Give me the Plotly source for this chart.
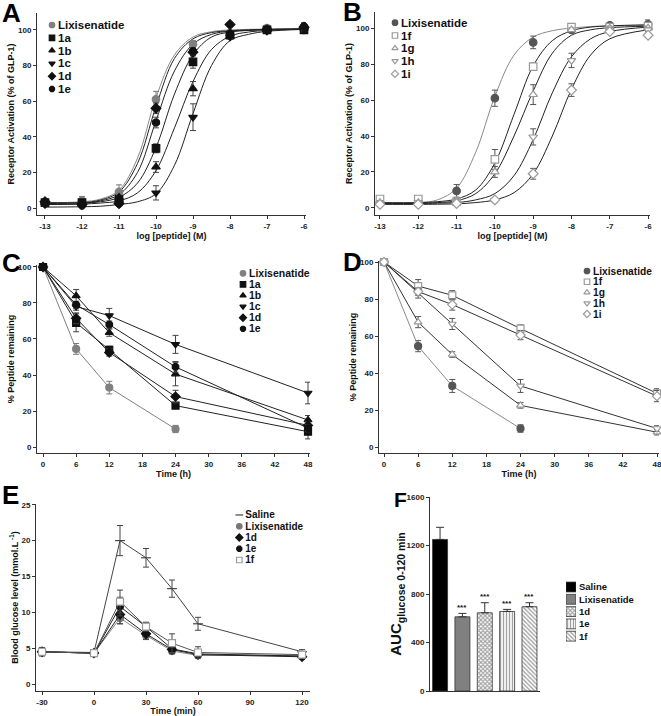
import plotly.graph_objects as go

W, H = 661, 716
FONT = "Liberation Sans"

# ---------------- Panel A: receptor activation ----------------
A_X = [-13, -12, -11, -10, -9, -8, -7, -6]
A_NAMES = ["Lixisenatide", "1a", "1b", "1c", "1d", "1e"]
A_LIXI = [3, 4, 9, 61, 92, 98, 101, 101]
A_LIXI_ERR = [1.5, 2.5, 4, 4.5, 2, 1, 1.5, 2]
A_1A = [3, 3, 5, 33.5, 82, 97, 100, 100]
A_1A_ERR = [1, 1, 1.5, 2.5, 3.5, 1, 1, 1]
A_1B = [3, 2.5, 6, 23, 67, 96.5, 100, 101]
A_1B_ERR = [1, 1, 1, 3, 4, 1, 1, 1.5]
A_1C = [2, 2, 3, 8.5, 51, 96, 100, 100]
A_1C_ERR = [1, 1, 1, 4, 7.5, 1, 1, 1]
A_1D = [3.5, 2, 2.5, 56, 87.5, 103, 100, 101.5]
A_1D_ERR = [1, 1, 1, 3, 2, 1, 1, 2]
A_1E = [2.5, 1.5, 2.5, 48, 88, 98, 100, 102]
A_1E_ERR = [1, 1, 1, 3, 2, 1, 1, 2]
# fitted curves
A_FIT_X = [-13, -12, -11.5, -11, -10.5, -10, -9.5, -9, -8.5, -8, -7.5, -7, -6]
A_LIXI_FIT = [3, 3.5, 5, 10, 28, 62, 86, 96, 99, 100, 100.3, 100.5, 100.5]
A_1A_FIT = [3, 3, 3.5, 6, 14, 34, 64, 86, 96, 98.8, 99.7, 100.2, 100.5]
A_1B_FIT = [2, 2.2, 2.8, 4, 8.5, 21, 45, 71, 89, 96.5, 98.8, 99.7, 100.5]
A_1C_FIT = [0.5, 0.7, 1, 2, 3.5, 8, 24, 53, 80, 94, 97.5, 99.2, 100.3]
A_1D_FIT = [2.5, 3, 4.5, 9, 25, 57, 84, 95, 98.5, 99.5, 100, 100.3, 100.5]
A_1E_FIT = [2, 2.5, 4, 7.5, 20, 49, 77, 92, 97.5, 99.3, 99.8, 100.2, 100.5]

# ---------------- Panel B ----------------
B_X = [-13, -12, -11, -10, -9, -8, -7, -6]
B_NAMES = ["Lixisenatide", "1f", "1g", "1h", "1i"]
B_LIXI = [3, 3, 9.5, 61, 92, 99, 101.5, 102]
B_LIXI_ERR = [1, 1, 3.5, 4.5, 3.5, 1, 1, 2.5]
B_1F = [5, 5, 3.5, 27, 78.5, 100.5, 100.5, 101]
B_1F_ERR = [1, 1.5, 1, 5.5, 2, 1, 1, 1]
B_1G = [3, 3, 4, 20, 63, 99, 100, 100]
B_1G_ERR = [1, 1, 1, 3, 5.5, 1, 1, 1]
B_1H = [2.5, 3, 3.5, 4, 39.5, 82, 99, 99]
B_1H_ERR = [1, 1, 1, 1, 4.5, 4, 1, 1]
B_1I = [2, 2, 2.5, 4.5, 19, 65.5, 98, 96]
B_1I_ERR = [1, 1, 1, 1, 3, 3.5, 1, 1]
B_FIT_X = [-13, -12, -11.5, -11, -10.5, -10, -9.5, -9, -8.5, -8, -7.5, -7, -6]
B_LIXI_FIT = [2.5, 3, 4.5, 11, 31, 62, 85, 95, 98.5, 100, 100.8, 101.2, 101.5]
B_1F_FIT = [3, 3, 3.5, 5, 10, 25, 52, 79, 93, 98.5, 100.5, 101.2, 101.8]
B_1G_FIT = [2.5, 2.5, 3, 4, 8, 19, 40, 65, 86, 96, 99, 100.2, 101]
B_1H_FIT = [2.5, 2.5, 2.7, 3, 4.5, 8, 18, 38, 64, 84, 94, 98, 100.5]
B_1I_FIT = [2, 2, 2.1, 2.3, 3, 4.5, 8.5, 19, 40, 66, 85, 94, 99]

# ---------------- Panel C: stability ----------------
C_T = [0, 6, 12, 24, 48]
C_LIXI_T = [0, 6, 12, 24]
C_NAMES = ["Lixisenatide", "1a", "1b", "1c", "1d", "1e"]
C_LIXI = [100, 54.5, 33, 10]
C_LIXI_ERR = [0.5, 3, 3.5, 2]
C_1A = [100, 69, 54, 23, 8.5]
C_1A_ERR = [0.5, 5, 2, 1.5, 4]
C_1B = [100, 84, 63.5, 40.5, 15]
C_1B_ERR = [0.5, 3.5, 2, 6.5, 2.5]
C_1C = [100, 78, 73, 57, 30]
C_1C_ERR = [0.5, 2, 4, 5, 6]
C_1D = [100, 71.5, 52.5, 28, 12]
C_1D_ERR = [0.5, 3, 2, 3.5, 2]
C_1E = [100, 79, 68, 44.5, 10.5]
C_1E_ERR = [0.5, 2, 2, 3, 2]

# ---------------- Panel D ----------------
D_T = [0, 6, 12, 24, 48]
D_LIXI_T = [0, 6, 12, 24]
D_NAMES = ["Lixisenatide", "1f", "1g", "1h", "1i"]
D_LIXI = [100, 54.5, 33, 10]
D_LIXI_ERR = [0.5, 3, 3.5, 2]
D_1F = [100, 87, 82, 64, 29]
D_1F_ERR = [0.5, 3.5, 2.5, 2, 2.5]
D_1G = [100, 67.5, 50, 22.5, 8]
D_1G_ERR = [0.5, 3, 1.5, 1.5, 1.5]
D_1H = [100, 83, 66.5, 33, 10]
D_1H_ERR = [0.5, 2.5, 3, 3.5, 1.5]
D_1I = [100, 84, 77, 60.5, 27.5]
D_1I_ERR = [0.5, 2, 3, 2.5, 3]

# ---------------- Panel E: glucose ----------------
E_T = [-30, 0, 15, 30, 45, 60, 120]
E_NAMES = ["Saline", "Lixisenatide", "1d", "1e", "1f"]
E_SALINE = [4.5, 4.4, 20, 17.6, 13.3, 8.4, 4.5]
E_SALINE_ERR = [0.6, 0.3, 2.1, 1.3, 1.2, 0.9, 0.3]
E_LIXI = [4.5, 4.3, 9.2, 6.8, 4.6, 4.0, 4.0]
E_LIXI_ERR = [0.5, 0.3, 0.8, 0.5, 0.4, 0.3, 0.3]
E_1D = [4.5, 4.3, 9.7, 7.0, 4.8, 4.1, 3.8]
E_1D_ERR = [0.5, 0.3, 1.3, 0.8, 0.5, 0.3, 0.3]
E_1E = [4.5, 4.3, 10.8, 8.0, 4.9, 4.2, 3.9]
E_1E_ERR = [0.5, 0.3, 1.3, 0.6, 0.6, 0.4, 0.3]
E_1F = [4.5, 4.3, 11.5, 8.0, 5.7, 4.4, 4.1]
E_1F_ERR = [0.5, 0.3, 1.6, 0.6, 1.3, 0.8, 0.3]

# ---------------- Panel F: AUC ----------------
F_GROUPS = ["Saline", "Lixisenatide", "1d", "1e", "1f"]
F_AUC = [1250, 612, 645, 656, 695]
F_ERR = [100, 28, 83, 17, 33]
F_SIG = ["", "***", "***", "***", "***"]

# ---------------- styles ----------------
GRAY = "#808080"
DARK = "#111111"
OPEN_EDGE = "#9a9a9a"
A_SYMBOLS = ["circle", "square", "triangle-up", "triangle-down", "diamond", "octagon"]
A_EDGES = [GRAY, DARK, DARK, DARK, DARK, DARK]
A_FILLS = A_EDGES
A_FITCOL = ["#8a8a8a", "#222", "#222", "#222", "#222", "#222"]
B_SYMBOLS = ["circle", "square", "triangle-up", "triangle-down", "diamond"]
B_EDGES = ["#555555", OPEN_EDGE, OPEN_EDGE, OPEN_EDGE, OPEN_EDGE]
B_FILLS = ["#555555", "white", "white", "white", "white"]
B_FITCOL = ["#8a8a8a", "#222", "#222", "#222", "#222"]
C_LINECOL = [GRAY, "#222", "#222", "#222", "#222", "#222"]
D_LINECOL = ["#8a8a8a", "#333", "#333", "#333", "#333"]
E_SYMBOLS = ["line-ew", "circle", "diamond", "octagon", "square"]
E_EDGES = ["#444444", "#777777", DARK, DARK, OPEN_EDGE]
E_FILLS = ["#444444", "#777777", DARK, DARK, "white"]
E_LINECOL = ["#444", "#888", "#222", "#222", "#555"]
F_COLORS = ["black", "#808080", "white", "white", "white"]
F_SHAPES = ["", "", "x", "|", "\\"]
F_FG = ["black", "#808080", "#111111", "#a0a0a0", "#555555"]
F_SOLID = [0.45, 0.45, 0.6, 0.45, 0.45]

fig = go.Figure()
layout = {}

def xr(k): return "x" if k == 1 else f"x{k}"
def yr(k): return "y" if k == 1 else f"y{k}"
def xk(k): return "xaxis" if k == 1 else f"xaxis{k}"
def yk(k): return "yaxis" if k == 1 else f"yaxis{k}"

TICKFONT = dict(family=FONT, size=8, color="#222", weight="bold")
TITLEFONT = dict(family=FONT, size=9, color="#111", weight="bold")

def main_axes(k, xpx, ypx, xrange, yrange, xt, yt, xtitle, ytitle, showx=True, ytfont=None, ystand=1):
    common = dict(showline=True, linecolor="#333", linewidth=1, ticks="outside", ticklen=3,
                  tickwidth=1, tickcolor="#333", showgrid=False, zeroline=False,
                  tickfont=TICKFONT, fixedrange=True, automargin=False, ticklabeloverflow="allow")
    xa = dict(common, domain=[xpx[0] / W, xpx[1] / W], range=xrange, anchor=yr(k),
              tickmode="array", tickvals=xt, ticktext=[str(v) for v in xt],
              showticklabels=showx)
    if xtitle:
        xa["title"] = dict(text=xtitle, font=TITLEFONT, standoff=2)
    if not showx:
        xa["ticks"] = ""
    layout[xk(k)] = xa
    layout[yk(k)] = dict(common, domain=[1 - ypx[1] / H, 1 - ypx[0] / H], range=yrange, anchor=xr(k),
                         tickmode="array", tickvals=yt, ticktext=[str(v) for v in yt],
                         title=dict(text=ytitle, font=ytfont or TITLEFONT, standoff=ystand))

def add_series(k, x, y, err, symbol, edge, fill, mode, linecol, size=7, errcol="#555"):
    fig.add_trace(go.Scatter(
        x=x, y=y, mode=mode, showlegend=False, xaxis=xr(k), yaxis=yr(k), cliponaxis=False,
        line=dict(color=linecol, width=1),
        marker=dict(symbol=symbol, size=size, color=fill, line=dict(color=edge, width=1.2)),
        error_y=dict(type="data", array=err, visible=True, color=errcol, thickness=1, width=3),
        hoverinfo="skip"))

def add_fit(k, x, y, col):
    fig.add_trace(go.Scatter(
        x=x, y=y, mode="lines", showlegend=False, xaxis=xr(k), yaxis=yr(k),
        line=dict(color=col, width=1, shape="spline", smoothing=1.0), hoverinfo="skip"))

def legend_block(k, cx, y0, sp, names, symbols, fills, edges, fontsize, size=5.5, half=3, standoff=2):
    n = len(names)
    layout[xk(k)] = dict(domain=[(cx - half) / W, (cx + half) / W], range=[-1, 1], visible=False,
                         anchor=yr(k), fixedrange=True)
    layout[yk(k)] = dict(domain=[1 - (y0 + (n - 0.5) * sp) / H, 1 - (y0 - 0.5 * sp) / H],
                         range=[n - 0.5, -0.5], type="category", side="right", anchor=xr(k),
                         showline=False, showgrid=False, zeroline=False, ticks="",
                         tickmode="array", tickvals=names, ticktext=names,
                         ticklabelstandoff=standoff, automargin=False,
                         tickfont=dict(family=FONT, size=fontsize, color="#111", weight="bold"),
                         fixedrange=True)
    fig.add_trace(go.Scatter(
        x=[0] * n, y=names, mode="markers", xaxis=xr(k), yaxis=yr(k), showlegend=False,
        cliponaxis=False, hoverinfo="skip",
        marker=dict(symbol=symbols, size=size, color=fills, line=dict(color=edges, width=1.2))))

# ----- Panel A -----
main_axes(1, (37, 306), (13, 215), [-13.216, -5.946], [-3.93, 109.5], A_X, [0, 20, 40, 60, 80, 100],
          "log [peptide] (M)", "Receptor Activation (% of GLP-1)")
A_FITS = [A_LIXI_FIT, A_1A_FIT, A_1B_FIT, A_1C_FIT, A_1D_FIT, A_1E_FIT]
A_MEANS = [A_LIXI, A_1A, A_1B, A_1C, A_1D, A_1E]
A_ERRS = [A_LIXI_ERR, A_1A_ERR, A_1B_ERR, A_1C_ERR, A_1D_ERR, A_1E_ERR]
for i in range(len(A_NAMES)):
    add_fit(1, A_FIT_X, A_FITS[i], A_FITCOL[i])
for i in range(len(A_NAMES)):
    add_series(1, A_X, A_MEANS[i], A_ERRS[i], A_SYMBOLS[i], A_EDGES[i], A_FILLS[i], "markers",
               A_EDGES[i], size=7.5, errcol=("#777" if i == 0 else "#444"))
legend_block(7, 52, 25, 12.8, A_NAMES, A_SYMBOLS, A_FILLS, A_EDGES, 11.5)

# ----- Panel B -----
main_axes(2, (375, 650), (12, 215), [-13.13, -5.95], [-3.9, 108.9], B_X, [0, 20, 40, 60, 80, 100],
          "log [peptide] (M)", "Receptor Activation (% of GLP-1)")
B_FITS = [B_LIXI_FIT, B_1F_FIT, B_1G_FIT, B_1H_FIT, B_1I_FIT]
B_MEANS = [B_LIXI, B_1F, B_1G, B_1H, B_1I]
B_ERRS = [B_LIXI_ERR, B_1F_ERR, B_1G_ERR, B_1H_ERR, B_1I_ERR]
for i in range(len(B_NAMES)):
    add_fit(2, B_FIT_X, B_FITS[i], B_FITCOL[i])
for i in range(len(B_NAMES)):
    add_series(2, B_X, B_MEANS[i], B_ERRS[i], B_SYMBOLS[i], B_EDGES[i], B_FILLS[i], "markers",
               B_EDGES[i], size=7.5, errcol="#555")
legend_block(8, 395, 22.7, 12.8, B_NAMES, B_SYMBOLS, B_FILLS, B_EDGES, 11.5)

# ----- Panel C -----
main_axes(3, (37, 310), (265, 453), [-1.09, 48.36], [-3.33, 101.1], [0, 6, 12, 18, 24, 30, 36, 42, 48],
          [0, 20, 40, 60, 80, 100], "Time (h)", "% Peptide remaining")
C_MEANS = [C_LIXI, C_1A, C_1B, C_1C, C_1D, C_1E]
C_ERRS = [C_LIXI_ERR, C_1A_ERR, C_1B_ERR, C_1C_ERR, C_1D_ERR, C_1E_ERR]
for i in range(len(C_NAMES)):
    add_series(3, C_LIXI_T if i == 0 else C_T, C_MEANS[i], C_ERRS[i], A_SYMBOLS[i], A_EDGES[i],
               A_FILLS[i], "lines+markers", C_LINECOL[i], size=7, errcol=("#777" if i == 0 else "#444"))
legend_block(9, 243, 273.3, 11.1, C_NAMES, A_SYMBOLS, A_FILLS, A_EDGES, 10.5)

# ----- Panel D -----
main_axes(4, (379, 659), (261, 453), [-0.88, 48.35], [-3.24, 100.54], [0, 6, 12, 18, 24, 30, 36, 42, 48],
          [0, 20, 40, 60, 80, 100], "Time (h)", "% Peptide remaining")
D_MEANS = [D_LIXI, D_1F, D_1G, D_1H, D_1I]
D_ERRS = [D_LIXI_ERR, D_1F_ERR, D_1G_ERR, D_1H_ERR, D_1I_ERR]
for i in range(len(D_NAMES)):
    add_series(4, D_LIXI_T if i == 0 else D_T, D_MEANS[i], D_ERRS[i], B_SYMBOLS[i], B_EDGES[i],
               B_FILLS[i], "lines+markers", D_LINECOL[i], size=7, errcol="#555")
legend_block(10, 587, 271, 10.75, D_NAMES, B_SYMBOLS, B_FILLS, B_EDGES, 10.2)

# ----- Panel E -----
main_axes(5, (36, 310), (504, 691), [-33.46, 124.6], [-0.97, 25.1], [-30, 0, 30, 60, 90, 120],
          [0, 5, 10, 15, 20, 25], "Time (min)", "Blood glucose level (mmol.L<sup> -1</sup>)")
E_MEANS = [E_SALINE, E_LIXI, E_1D, E_1E, E_1F]
E_ERRS = [E_SALINE_ERR, E_LIXI_ERR, E_1D_ERR, E_1E_ERR, E_1F_ERR]
for i in range(len(E_NAMES)):
    add_series(5, E_T, E_MEANS[i], E_ERRS[i], E_SYMBOLS[i], E_EDGES[i], E_FILLS[i],
               "lines+markers", E_LINECOL[i], size=7, errcol="#444")
legend_block(11, 239.3, 515, 11.25, E_NAMES, E_SYMBOLS, E_FILLS, E_EDGES, 10)

# ----- Panel F -----
main_axes(6, (430, 540), (497, 691), [-0.45, 4.47], [0, 1600], [0, 1, 2, 3, 4], [0, 400, 800, 1200, 1600],
          None, "AUC<sub>glucose 0-120 min</sub>", showx=False,
          ytfont=dict(family=FONT, size=15, color="#111", weight="bold"), ystand=0)
F_X = list(range(len(F_GROUPS)))
F_PATTERN = dict(shape=F_SHAPES, fgcolor=F_FG, bgcolor=F_COLORS, size=3, solidity=F_SOLID)
fig.add_trace(go.Bar(
    x=F_X, y=F_AUC, width=0.67, xaxis="x6", yaxis="y6", showlegend=False, hoverinfo="skip",
    marker=dict(color=F_COLORS, line=dict(color="#333", width=0.8), pattern=F_PATTERN),
    error_y=dict(type="data", symmetric=False, array=F_ERR, arrayminus=[0] * len(F_ERR),
                 color="#333", thickness=1, width=4)))
for i in range(len(F_GROUPS)):
    if F_SIG[i]:
        fig.add_annotation(x=F_X[i], y=F_AUC[i] + F_ERR[i], xref="x6", yref="y6", text=F_SIG[i],
                           showarrow=False, yshift=6,
                           font=dict(family=FONT, size=8, color="#111", weight="bold"))
# legend swatches for F
layout[xk(12)] = dict(domain=[566 / W, 576 / W], range=[0, 1], visible=False, anchor="y12", fixedrange=True)
nF = len(F_GROUPS)
layout[yk(12)] = dict(domain=[1 - (587 + (nF - 0.5) * 12.3) / H, 1 - (587 - 0.5 * 12.3) / H],
                      range=[nF - 0.5, -0.5], type="category", side="right", anchor="x12",
                      showline=False, showgrid=False, zeroline=False, ticks="", tickmode="array",
                      tickvals=F_GROUPS, ticktext=F_GROUPS, ticklabelstandoff=2, automargin=False,
                      tickfont=dict(family=FONT, size=9.5, color="#111", weight="bold"), fixedrange=True)
fig.add_trace(go.Bar(
    x=[1] * nF, y=F_GROUPS, orientation="h", width=0.8, xaxis="x12", yaxis="y12", showlegend=False,
    hoverinfo="skip",
    marker=dict(color=F_COLORS, line=dict(color="#333", width=0.8), pattern=F_PATTERN)))

# panel letters
LETTERS = [("A", 0, 12.5, 26), ("B", 341, 12, 26), ("C", 0, 263, 26), ("D", 341, 262, 26),
           ("E", 0, 495, 26), ("F", 392, 499.5, 21)]
for t, lx, ly, fs in LETTERS:
    fig.add_annotation(x=lx / W, y=1 - ly / H, xref="paper", yref="paper", text=t, showarrow=False,
                       xanchor="left", yanchor="middle",
                       font=dict(family=FONT, size=fs, color="black", weight="bold"))

fig.update_layout(**layout)
fig.update_layout(width=W, height=H, margin=dict(l=0, r=0, t=0, b=0), autosize=False,
                  plot_bgcolor="white", paper_bgcolor="white", barmode="overlay",
                  font=dict(family=FONT))
fig.write_html("out.html", config={"displayModeBar": False, "staticPlot": True},
               post_script="document.body.style.margin='0';document.body.style.overflow='hidden';")
